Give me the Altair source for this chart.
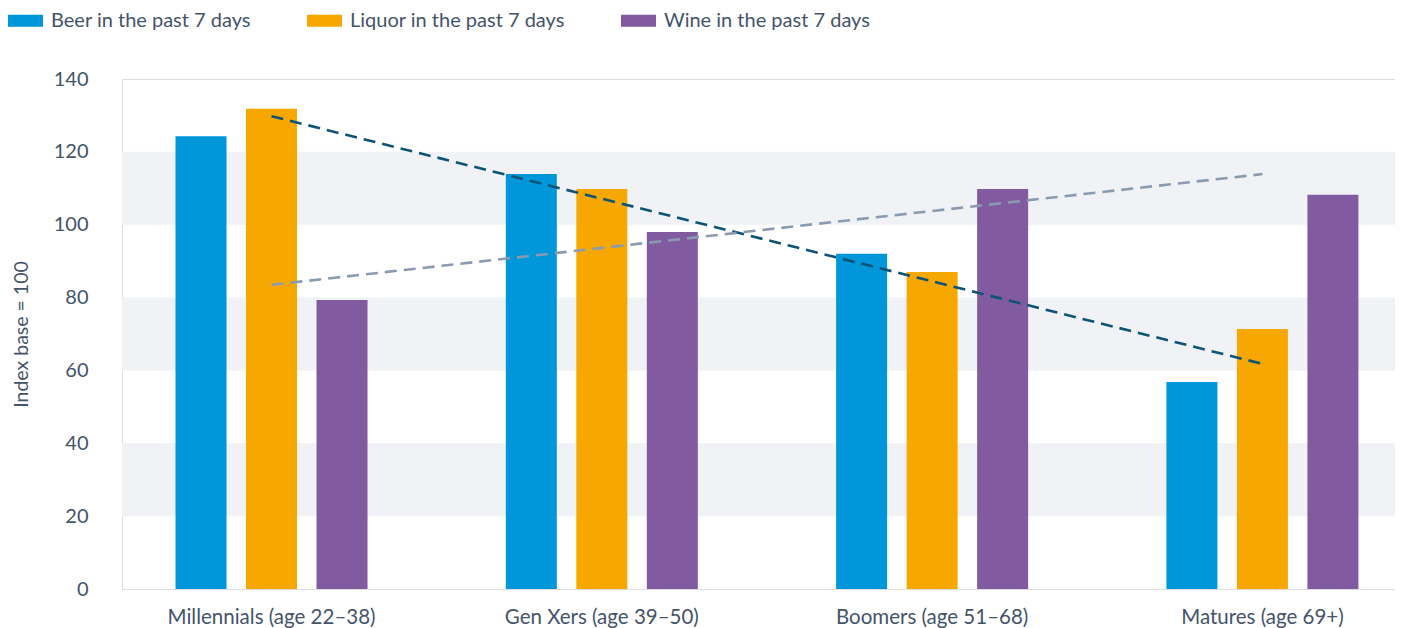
import altair as alt
import pandas as pd

groups = ["Millennials (age 22–38)", "Gen Xers (age 39–50)", "Boomers (age 51–68)", "Matures (age 69+)"]
series = ["Beer in the past 7 days", "Liquor in the past 7 days", "Wine in the past 7 days"]
beer = [124.3, 113.9, 92.0, 56.8]
liquor = [131.8, 109.8, 87.0, 71.4]
wine = [79.3, 98.0, 109.8, 108.2]
colors = ["#0096da", "#f6a800", "#825aa0"]

trend_groups = [groups[0], groups[-1]]
trend_dark = [129.8, 61.8]
trend_grey = [83.5, 113.9]

band_lo = [20, 60, 100]
band_hi = [40, 80, 120]
y_ticks = [0, 20, 40, 60, 80, 100, 120, 140]

TEXT = "#44546a"
FONT = "Lato"

rows = []
for g, b, l, w in zip(groups, beer, liquor, wine):
    rows.append({"group": g, "series": series[0], "value": b})
    rows.append({"group": g, "series": series[1], "value": l})
    rows.append({"group": g, "series": series[2], "value": w})
bars_df = pd.DataFrame(rows)
bands_df = pd.DataFrame({"lo": band_lo, "hi": band_hi})
dark_df = pd.DataFrame({"group": trend_groups, "value": trend_dark})
grey_df = pd.DataFrame({"group": trend_groups, "value": trend_grey})

x_scale = alt.Scale(domain=groups, paddingInner=0.4187, paddingOuter=0.1364, align=0.594)
y_scale = alt.Scale(domain=[0, 140], nice=False)

x_enc = alt.X("group:N", scale=x_scale, sort=groups,
              axis=alt.Axis(title=None, labelAngle=0, labelFontSize=20.5, labelColor=TEXT,
                            labelFont=FONT, labelPadding=18, labelLimit=500, ticks=False,
                            tickSize=0, domain=False, grid=False))
y_enc = alt.Y("value:Q", scale=y_scale,
              axis=alt.Axis(values=y_ticks, title="Index base = 100", titleFontSize=19.5,
                            titleFont=FONT, titleColor=TEXT, titleFontWeight="normal",
                            titlePadding=22, labelFontSize=20, labelFont=FONT,
                            labelColor=TEXT, labelPadding=34, ticks=False, tickSize=0,
                            domain=False, grid=False))

bands = alt.Chart(bands_df).mark_rect(color="#f0f2f5").encode(
    y=alt.Y("lo:Q", scale=y_scale),
    y2="hi:Q",
    x=alt.value(0),
    x2=alt.value("width"),
)

bars = alt.Chart(bars_df).mark_bar().encode(
    x=x_enc,
    y=y_enc,
    xOffset=alt.XOffset("series:N", sort=series,
                        scale=alt.Scale(paddingInner=0.2766, paddingOuter=0)),
    color=alt.Color("series:N", sort=series,
                    scale=alt.Scale(domain=series, range=colors),
                    legend=alt.Legend(title=None, orient="none", legendX=-114, legendY=-76,
                                      direction="horizontal", columns=3,
                                      symbolType="M-1,-0.343H1V0.343H-1Z", symbolSize=1225,
                                      symbolStrokeWidth=0, symbolOpacity=1,
                                      labelFontSize=20, labelFont=FONT, labelColor=TEXT,
                                      labelOffset=8, labelLimit=400, columnPadding=56,
                                      padding=0)),
)

dark = alt.Chart(dark_df).mark_line(color="#0d5375", strokeDash=[12, 7], strokeWidth=2.6).encode(
    x=alt.X("group:N", scale=x_scale, sort=groups),
    y=alt.Y("value:Q", scale=y_scale),
)
grey = alt.Chart(grey_df).mark_line(color="#8a9bb0", strokeDash=[12, 7], strokeWidth=2.6).encode(
    x=alt.X("group:N", scale=x_scale, sort=groups),
    y=alt.Y("value:Q", scale=y_scale),
)

chart = alt.layer(bands, bars, dark, grey).properties(
    width=1273,
    height=510,
    autosize=alt.AutoSizeParams(type="none"),
    padding={"left": 114, "top": 71, "right": 0, "bottom": 40},
).configure_view(stroke=None, fill="#f7f8fa").configure(font=FONT)

chart.save("out.html", embed_options={"renderer": "svg", "actions": False})
